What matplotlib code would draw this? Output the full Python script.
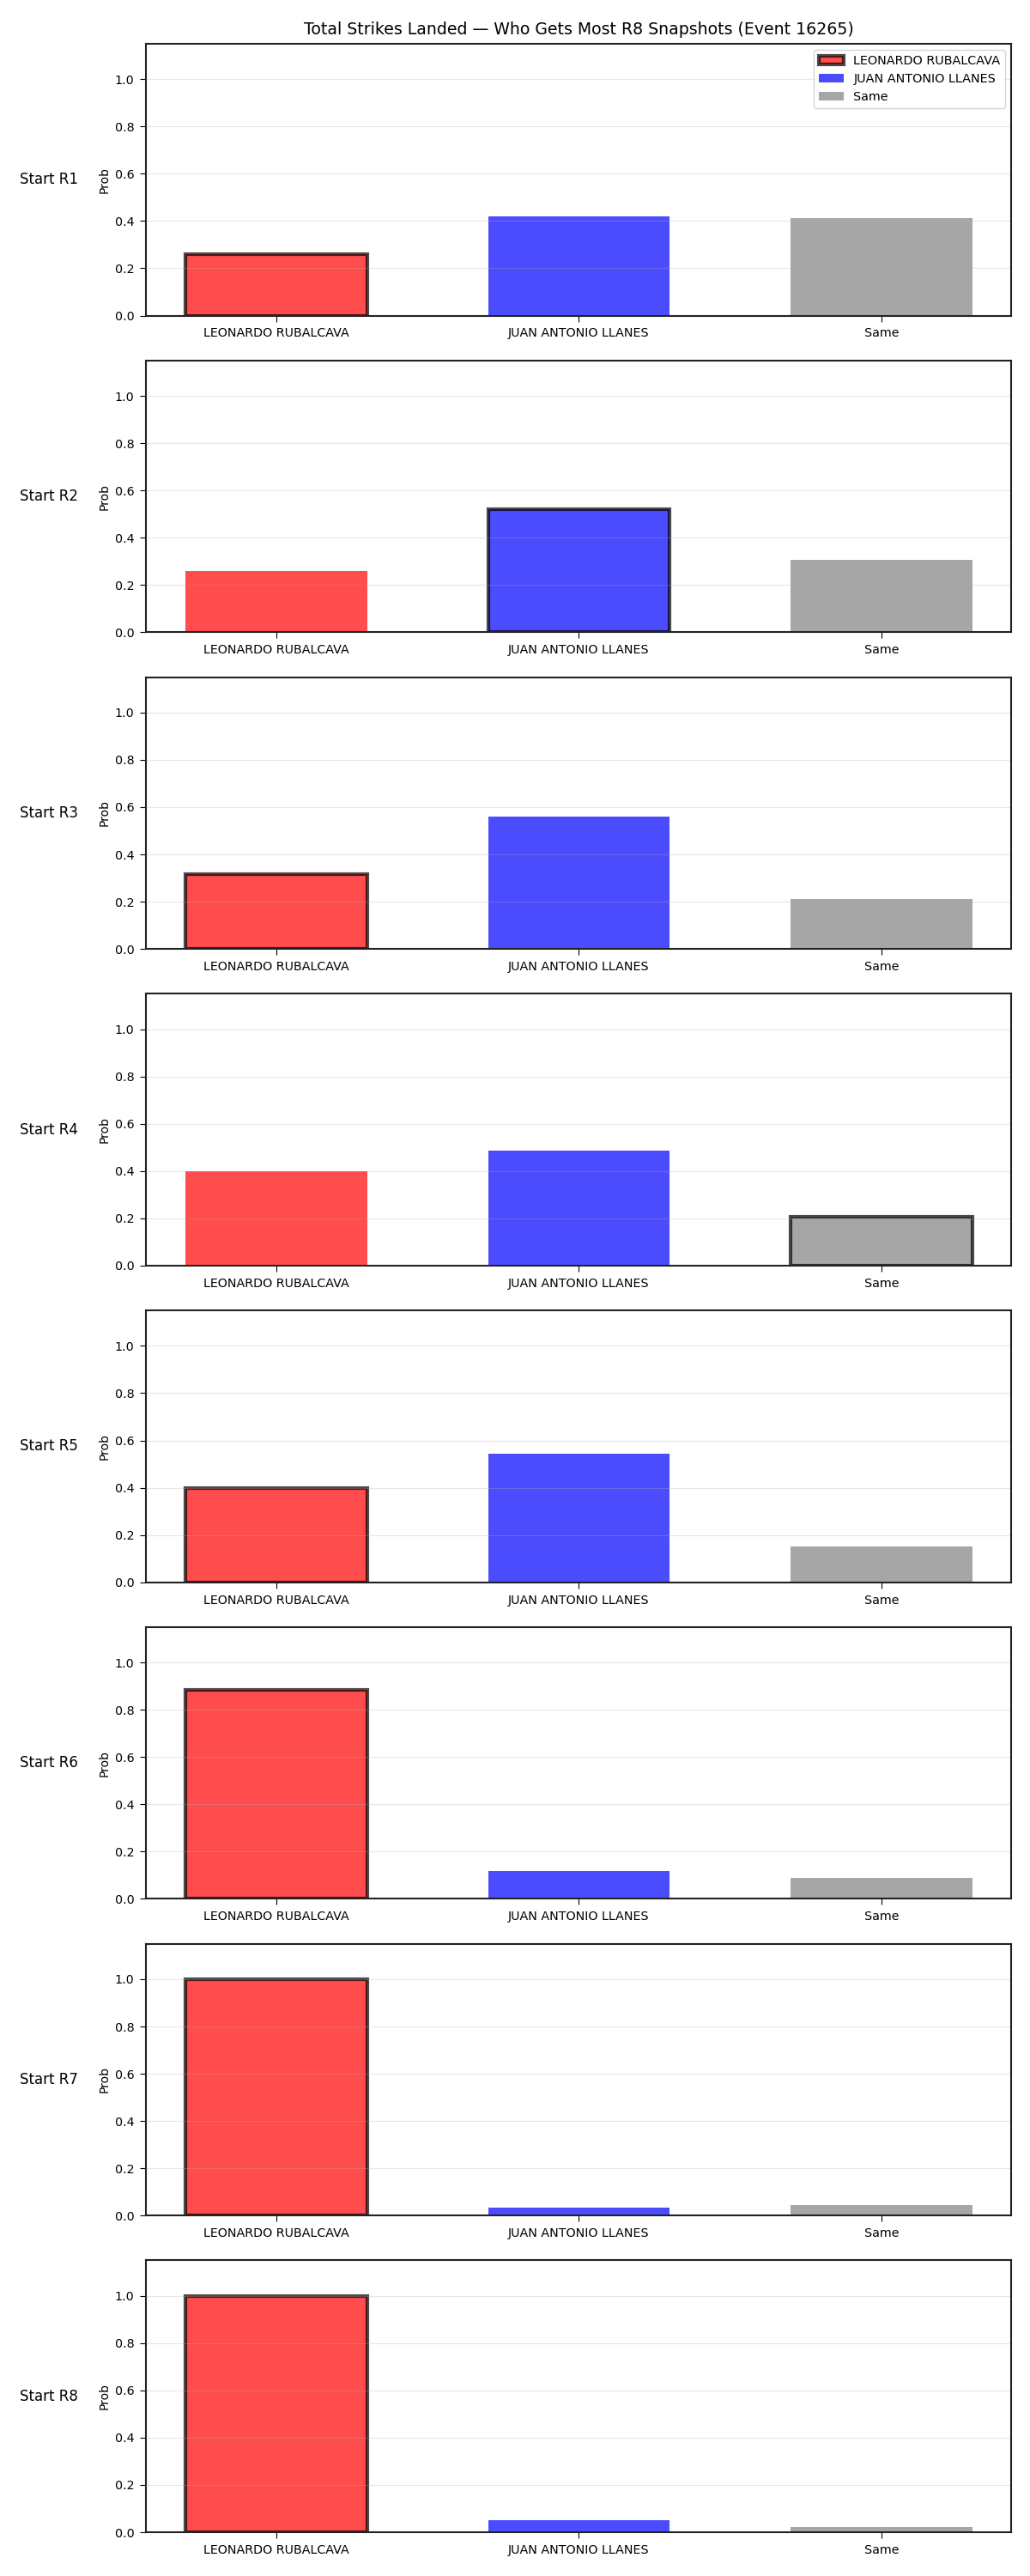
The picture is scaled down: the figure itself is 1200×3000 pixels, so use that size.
import matplotlib
matplotlib.use("Agg")
from matplotlib import pyplot as plt

# outcome labels, same order in every panel
outcomes = ['LEONARDO RUBALCAVA', 'JUAN ANTONIO LLANES', 'Same']
bar_colors = ['red', 'blue', 'gray']

# starting round of each snapshot
starts = ['R1', 'R2', 'R3', 'R4', 'R5', 'R6', 'R7', 'R8']

# probabilities read per snapshot
prob_leonardo = [0.26, 0.26, 0.318, 0.40, 0.398, 0.885, 1.0, 1.0]
prob_juan = [0.42, 0.52, 0.56, 0.488, 0.544, 0.118, 0.033, 0.051]
prob_same = [0.412, 0.305, 0.21, 0.208, 0.152, 0.09, 0.043, 0.022]

# which outcome gets the black outline in each panel
highlight = [0, 1, 0, 2, 0, 0, 0, 0]

fig, axes = plt.subplots(len(starts), 1, figsize=(12, 30), dpi=100)
fig.subplots_adjust(left=0.142, right=0.982, top=0.983, bottom=0.017, hspace=0.165)

for i, ax in enumerate(axes):
        vals = [prob_leonardo[i], prob_juan[i], prob_same[i]]
        bars = ax.bar(outcomes, vals, color=bar_colors, alpha=0.7, width=0.6)
        for j, b in enumerate(bars):
                b.set_label(outcomes[j])
                if j == highlight[i]:
                        b.set_edgecolor('black')
                        b.set_linewidth(3)
        ax.set_ylim(0, 1.15)
        ax.set_ylabel('Prob')
        ax.grid(axis='y', alpha=0.3)
        ax.tick_params(length=5, pad=5, labelsize=10.3)
        ax.text(-0.079, 0.5, 'Start ' + starts[i], transform=ax.transAxes,
                ha='right', va='center', fontsize=12)
        for sp in ax.spines.values():
                sp.set_linewidth(1.5)
                sp.set_color('#222222')
        if i == 0:
                ax.legend(loc='upper right', fontsize=10.4)

axes[0].set_title('Total Strikes Landed \u2014 Who Gets Most R8 Snapshots (Event 16265)',
                  fontsize=13.6, pad=8)

fig.savefig('out.png')
